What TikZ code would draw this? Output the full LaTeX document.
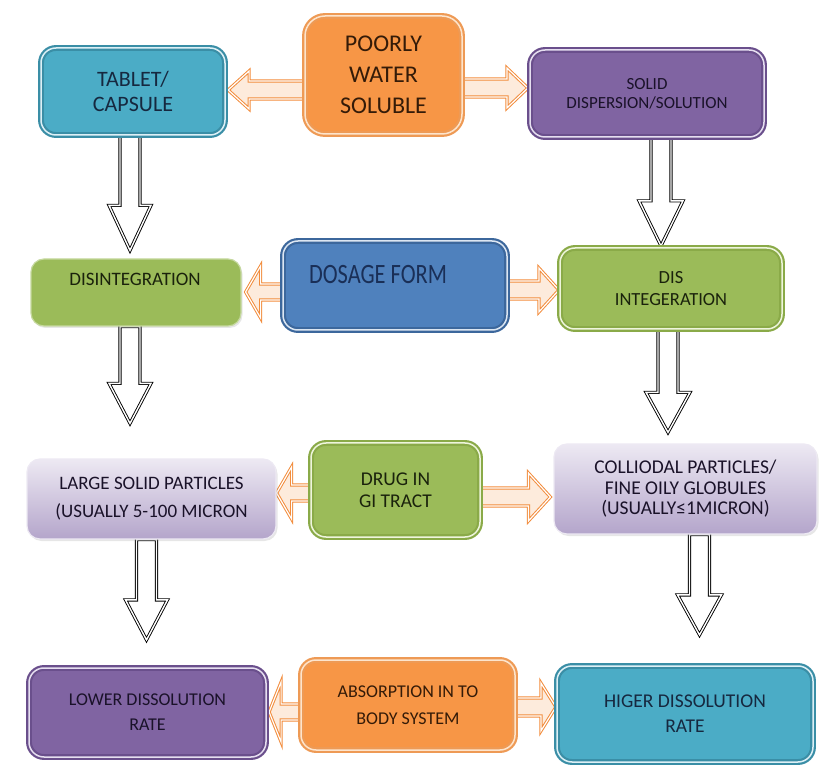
\documentclass[tikz,border=0pt]{standalone}
\usepackage{fontspec}
\usepackage{graphicx}
\setmainfont{Carlito}
\usetikzlibrary{calc,backgrounds,shadows}
\definecolor{teal1}{HTML}{4BACC6}\definecolor{teal2}{HTML}{3A8EA6}\definecolor{teal3}{HTML}{DDF0F6}
\definecolor{ora1}{HTML}{F79646}\definecolor{ora2}{HTML}{EE9A55}\definecolor{ora3}{HTML}{FDE4CC}
\definecolor{pur1}{HTML}{8064A2}\definecolor{pur2}{HTML}{6A4F8C}\definecolor{pur3}{HTML}{E6DFF0}
\definecolor{blu1}{HTML}{4F81BD}\definecolor{blu2}{HTML}{3C679C}\definecolor{blu3}{HTML}{DCE6F2}
\definecolor{grn1}{HTML}{9BBB59}\definecolor{grn2}{HTML}{8AAA48}\definecolor{grn3}{HTML}{EEF5DC}
\definecolor{grn4}{HTML}{C5D89E}
\definecolor{lav1}{HTML}{EDE9F3}\definecolor{lav2}{HTML}{B4A5CB}
\definecolor{arrline}{HTML}{F28C3C}\definecolor{arrfill}{HTML}{FDEBDC}
\definecolor{tnavy}{HTML}{16283F}\definecolor{tbrown}{HTML}{341B08}
\definecolor{tdark}{HTML}{1A1229}\definecolor{tgreen}{HTML}{1A220C}
\definecolor{tblue}{HTML}{1A2F57}
% horizontal block arrow: #1 start, #2 tip, #3 shaft half, #4 head half, #5 head length, #6 style
\newcommand\hblock[6]{%
  \path[#6] let \p1=(#1), \p2=(#2), \n1={sign(\x2-\x1)} in
    ({\x1},{\y1-#3}) -- ({\x2-\n1*#5},{\y1-#3}) -- ({\x2-\n1*#5},{\y1-#4})
    -- ({\x2},{\y1}) -- ({\x2-\n1*#5},{\y1+#4}) -- ({\x2-\n1*#5},{\y1+#3})
    -- ({\x1},{\y1+#3}) -- cycle;}
% vertical block arrow
\newcommand\vblock[6]{%
  \path[#6] let \p1=(#1), \p2=(#2), \n1={sign(\y2-\y1)} in
    ({\x1-#3},{\y1}) -- ({\x1-#3},{\y2-\n1*#5}) -- ({\x1-#4},{\y2-\n1*#5})
    -- ({\x1},{\y2}) -- ({\x1+#4},{\y2-\n1*#5}) -- ({\x1+#3},{\y2-\n1*#5})
    -- ({\x1+#3},{\y1}) -- cycle;}
\begin{document}
\begin{tikzpicture}[x=1pt,y=-1pt,
  box/.style={rounded corners=15pt, line width=2.2pt, double distance=1.5pt,
    align=center, inner sep=0pt,
    drop shadow={opacity=0.18,shadow xshift=1pt,shadow yshift=-2pt}},
  flatbox/.style={rounded corners=13pt, line width=1.2pt, align=center, inner sep=0pt,
    drop shadow={opacity=0.2,shadow xshift=1.5pt,shadow yshift=-2pt}},
  tealbox/.style={box, fill=teal1, draw=teal2, double=teal3, text=tnavy},
  orabox/.style={box, fill=ora1, draw=ora2, double=ora3, text=tbrown},
  purbox/.style={box, fill=pur1, draw=pur2, double=pur3, text=tdark},
  blubox/.style={box, fill=blu1, draw=blu2, double=blu3},
  grnbox/.style={box, fill=grn1, draw=grn2, double=grn3, text=tgreen},
  lavbox/.style={flatbox, top color=lav1, bottom color=lav2, draw=lav1, text=tdark},
  harr/.style={draw=arrline, double=white, line width=1pt, double distance=1.2pt,
    fill=arrfill, line join=miter},
  varr/.style={draw=black, double=white, line width=0.9pt, double distance=1.4pt,
    fill=white, line join=miter}]
\useasboundingbox (0,0) rectangle (820,767);

% row 1
\node[tealbox, minimum width=184pt, minimum height=87pt,
  font=\fontsize{22}{25}\selectfont] (tab) at (133,91.5) {TABLET/\\CAPSULE};
\node[orabox, rounded corners=20pt, minimum width=157pt, minimum height=118pt,
  font=\fontsize{24}{31}\selectfont] (poor) at (383.5,75) {POORLY\\WATER\\SOLUBLE};
\node[purbox, minimum width=234pt, minimum height=87pt,
  font=\fontsize{17}{19}\selectfont] (sol) at (647,93.5) {SOLID\\DISPERSION/SOLUTION};

% row 2
\node[flatbox, fill=grn1, draw=grn4, minimum width=210pt, minimum height=67pt]
  (dis1) at (136,292.5) {};
\node[anchor=base, text=tgreen, font=\fontsize{19}{21}\selectfont] (dis1t) at (135,286)
  {DISINTEGRATION};
\node[blubox, minimum width=224pt, minimum height=89pt] (dos) at (395,285.5) {};
\node[anchor=base, text=tblue, font=\fontsize{28}{30}\selectfont] (dost) at (378,284)
  {\scalebox{0.8}[1]{DOSAGE FORM}};
\node[grnbox, minimum width=222pt, minimum height=81pt,
  font=\fontsize{18.5}{22}\selectfont] (dis2) at (671,288.5) {DIS\\INTEGERATION};

% row 3
\node[lavbox, minimum width=249pt, minimum height=80pt,
  font=\fontsize{19}{28}\selectfont] (large) at (151.5,499)
  {LARGE SOLID PARTICLES\\(USUALLY 5-100 MICRON};
\node[grnbox, minimum width=169pt, minimum height=94pt,
  font=\fontsize{19.5}{22}\selectfont] (drug) at (395.5,490) {DRUG IN\\GI TRACT};
\node[lavbox, minimum width=263pt, minimum height=90pt,
  font=\fontsize{19.5}{20.5}\selectfont] (coll) at (685.5,489)
  {COLLIODAL PARTICLES/\\FINE OILY GLOBULES\\(USUALLY≤1MICRON)};

% row 4
\node[purbox, minimum width=237pt, minimum height=89pt,
  font=\fontsize{18}{25}\selectfont] (lower) at (147.5,712.5) {LOWER DISSOLUTION\\RATE};
\node[orabox, minimum width=214pt, minimum height=90pt,
  font=\fontsize{18}{27}\selectfont] (absorb) at (408,705) {ABSORPTION IN TO\\BODY SYSTEM};
\node[tealbox, minimum width=256pt, minimum height=96pt,
  font=\fontsize{19.5}{25}\selectfont] (higer) at (685,714) {HIGER DISSOLUTION\\RATE};

\begin{pgfonlayer}{background}
% horizontal orange arrows
\hblock{$(poor.west)+(0,-15pt)$}{$(tab.east)+(2pt,0)$}{9pt}{19pt}{21pt}{harr}
\hblock{$(poor.east)+(0,-13pt)$}{$(sol.west)+(-1pt,0)$}{9pt}{20pt}{21pt}{harr}
\hblock{$(dos.west)+(0,-6.5pt)$}{$(dis1.east)+(4pt,0)$}{8pt}{26pt}{15pt}{harr}
\hblock{$(dos.east)+(0,-4.5pt)$}{$(dis2.west)+(0,0)$}{9pt}{22pt}{20pt}{harr}
\hblock{$(drug.west)+(0,-3pt)$}{$(large.east)+(0,0)$}{8pt}{26pt}{15pt}{harr}
\hblock{$(drug.east)+(0,-7pt)$}{$(coll.west)+(-3pt,0)$}{9pt}{24pt}{22pt}{harr}
\hblock{$(absorb.west)+(0,-7pt)$}{$(lower.east)+(2pt,0)$}{8pt}{30pt}{12pt}{harr}
\hblock{$(absorb.east)+(0,-2pt)$}{$(higer.west)+(0,0)$}{9pt}{24pt}{15pt}{harr}
% vertical black arrows
\vblock{$(tab.south)+(-3pt,0)$}{$(dis1.north)+(0,8pt)$}{10pt}{21pt}{45pt}{varr}
\vblock{$(sol.south)+(14pt,0)$}{$(dis2.north)+(0,1pt)$}{10pt}{22pt}{45pt}{varr}
\vblock{$(dis1.south)+(-6pt,0)$}{$(large.north)+(0,35pt)$}{10pt}{21pt}{40pt}{varr}
\vblock{$(dis2.south)+(-3pt,0)$}{$(coll.north)+(0,11pt)$}{10pt}{22pt}{40pt}{varr}
\vblock{$(large.south)+(-5pt,0)$}{$(lower.north)+(0,27pt)$}{10pt}{21pt}{40pt}{varr}
\vblock{$(coll.south)+(14pt,0)$}{$(higer.north)+(0,30pt)$}{10pt}{22pt}{40pt}{varr}
\end{pgfonlayer}
\end{tikzpicture}
\end{document}
